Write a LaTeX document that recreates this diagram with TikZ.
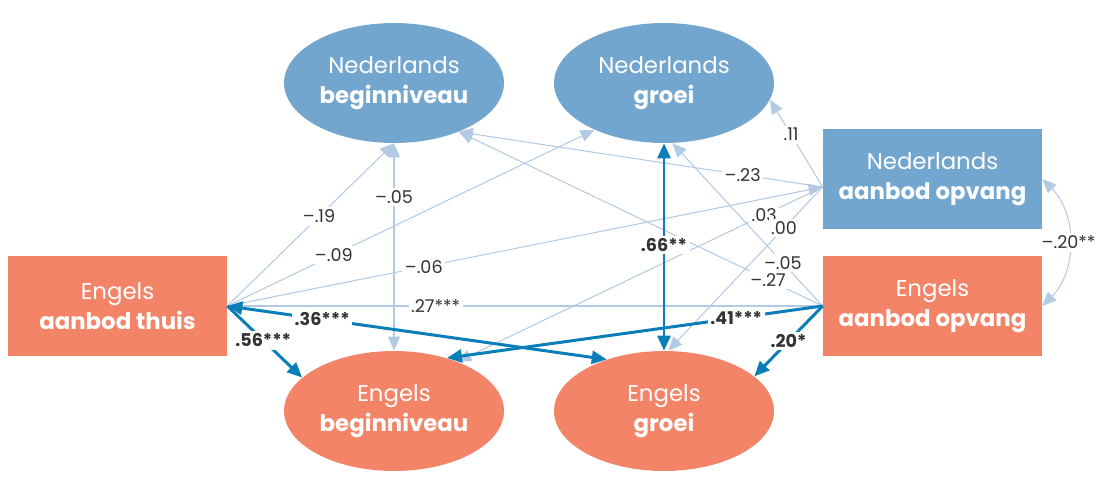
\documentclass[tikz,border=0pt]{standalone}
\usepackage{fontspec}
\setmainfont{Poppins}
\usetikzlibrary{arrows.meta, shapes.geometric, positioning, calc}
\definecolor{nlblue}{HTML}{73A6CF}
\definecolor{enorange}{HTML}{F38467}
\definecolor{lightline}{HTML}{B3CAE5}
\definecolor{darkline}{HTML}{0A7EB9}
\definecolor{lbltext}{HTML}{333333}

\begin{document}
\begin{tikzpicture}[x=0.02cm, y=-0.02cm,
  latent/.style={ellipse, minimum width=4.4cm, minimum height=2.4cm, inner sep=0pt,
    text=white, align=center, font=\fontsize{13}{17}\selectfont},
  observed/.style={rectangle, minimum width=4.38cm, minimum height=2cm, inner sep=0pt,
    text=white, align=center, font=\fontsize{13}{17}\selectfont},
  weak/.style={lightline, line width=0.6pt, >={Triangle[length=0.28cm,width=0.24cm]}, ->},
  strong/.style={darkline, line width=1.7pt, >={Triangle[length=0.3cm,width=0.26cm]}, ->},
  coef/.style={fill=white, inner sep=1.5pt, text=lbltext, font=\fontsize{10}{12}\selectfont},
  coefbold/.style={coef, font=\fontsize{10}{12}\selectfont\bfseries}]
  \useasboundingbox (0,0) rectangle (1106,477);
  % latent variables
  \node[latent, fill=nlblue] (nlbeg) at (394,83) {Nederlands\\\textbf{beginniveau}};
  \node[latent, fill=nlblue] (nlgro) at (664,83) {Nederlands\\\textbf{groei}};
  \node[latent, fill=enorange] (enbeg) at (394,411) {Engels\\\textbf{beginniveau}};
  \node[latent, fill=enorange] (engro) at (664,411) {Engels\\\textbf{groei}};
  % observed variables
  \node[observed, fill=enorange] (thuis) at (117.5,306) {Engels\\\textbf{aanbod thuis}};
  \node[observed, fill=nlblue] (nlopv) at (932.5,179) {Nederlands\\\textbf{aanbod opvang}};
  \node[observed, fill=enorange] (enopv) at (932.5,306) {Engels\\\textbf{aanbod opvang}};
  \coordinate (thuisport) at (thuis.east);
  \coordinate (nlopvport) at ($(nlopv.west)+(0,8)$);
  \coordinate (enopvport) at (enopv.west);
  % weak paths
  \draw[weak] (thuisport) -- node[coef, pos=0.55] {--.19} (nlbeg.south);
  \draw[weak] (thuisport) -- node[coef, pos=0.29] {--.09} (nlgro.-146);
  \draw[weak] (thuisport) -- node[coef, pos=0.33] {--.06} (nlopvport);
  \draw[weak, -] (thuisport) -- node[coef, pos=0.35] {.27***} (enopvport);
  \draw[weak, <->] (nlbeg.south) -- node[coef, pos=0.26] {--.05} (enbeg.north);
  \draw[weak] (nlopvport) -- node[coef, pos=0.22] {--.23} (nlbeg.-37);
  \draw[weak] (nlopvport) -- node[coef, pos=0.6] {.11} (nlgro.-9);
  \draw[weak] (nlopvport) -- node[coef, pos=0.16] {.03} (enbeg.38);
  \draw[weak] (nlopvport) -- node[coef, pos=0.25] {.00} (engro.86);
  \draw[weak] (enopvport) -- node[coef, pos=0.265] {--.05} (nlgro.-82);
  \draw[weak] (enopvport) -- node[coef, pos=0.15] {--.27} (nlbeg.-37);
  \draw[weak, <->] (nlopv.east) to[bend left=45] node[coef] {--.20**} (enopv.east);
  % strong paths
  \draw[strong] (thuisport) -- node[coefbold, pos=0.48] {.56***} (enbeg.160);
  \draw[strong, <->] (thuisport) -- node[coefbold, pos=0.25] {.36***} (engro.138);
  \draw[strong, <->] (nlgro.south) -- node[coefbold, pos=0.49] {.66**} (engro.north);
  \draw[strong] (enopvport) -- node[coefbold, pos=0.23] {.41***} (enbeg.45);
  \draw[strong] (enopvport) -- node[coefbold, pos=0.5] {.20*} (engro.21);
\end{tikzpicture}
\end{document}
